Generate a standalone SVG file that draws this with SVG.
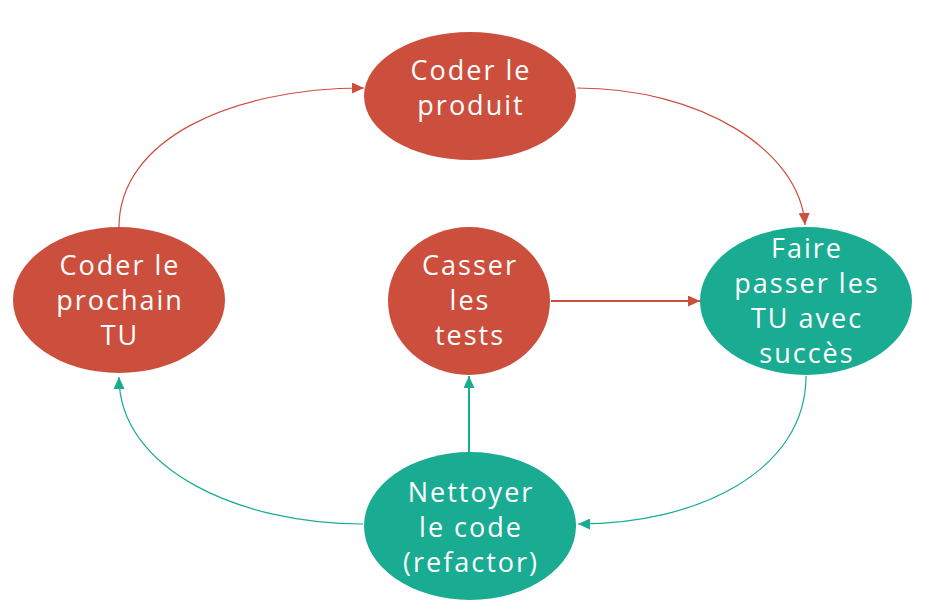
<svg xmlns="http://www.w3.org/2000/svg" width="938" height="613" viewBox="0 0 938 613">
<style>
.red{fill:#CC4F3E}
.teal{fill:#1AAC92}
.lbl{font-family:"Open Sans","Liberation Sans",sans-serif;font-size:27px;fill:#fff;text-anchor:middle;letter-spacing:2px;font-weight:500}
.cr{fill:none;stroke:#CC4F3E}
.ct{fill:none;stroke:#1AAC92}
</style>
<defs>
<marker id="ar" markerUnits="userSpaceOnUse" markerWidth="12" markerHeight="11" refX="12" refY="5.5" orient="auto"><path d="M0,0 L12,5.5 L0,11 z" fill="#CC4F3E"/></marker>
<marker id="at" markerUnits="userSpaceOnUse" markerWidth="12" markerHeight="11" refX="12" refY="5.5" orient="auto"><path d="M0,0 L12,5.5 L0,11 z" fill="#1AAC92"/></marker>
</defs>
<rect width="938" height="613" fill="#fff"/>
<g id="connectors">
<path class="cr" stroke-width="1.2" d="M119,227 C119,140 230,88 364,88" marker-end="url(#ar)"/>
<path class="cr" stroke-width="1.2" d="M577,88 C700,88 800,150 805,225" marker-end="url(#ar)"/>
<path class="cr" stroke-width="2" d="M551,301 L700,301" marker-end="url(#ar)"/>
<path class="ct" stroke-width="1.2" d="M806,376 C806,470 700,524 578,524" marker-end="url(#at)"/>
<path class="ct" stroke-width="1.2" d="M363,524 C240,524 119,470 119,377" marker-end="url(#at)"/>
<path class="ct" stroke-width="2" d="M469,452 L469,376" marker-end="url(#at)"/>
</g>
<g id="coder-produit">
<ellipse class="red" cx="470" cy="96" rx="106" ry="64"/>
<text class="lbl" x="471" y="80">Coder le</text>
<text class="lbl" x="471" y="115">produit</text>
</g>
<g id="faire-passer">
<ellipse class="teal" cx="806" cy="301" rx="106" ry="74"/>
<text class="lbl" x="807" y="258">Faire</text>
<text class="lbl" x="807" y="293">passer les</text>
<text class="lbl" x="807" y="328">TU avec</text>
<text class="lbl" x="807" y="363">succès</text>
</g>
<g id="coder-prochain">
<ellipse class="red" cx="119" cy="300" rx="106" ry="73"/>
<text class="lbl" x="120" y="275">Coder le</text>
<text class="lbl" x="120" y="310">prochain</text>
<text class="lbl" x="120" y="345">TU</text>
</g>
<g id="casser">
<ellipse class="red" cx="469" cy="301" rx="81" ry="74"/>
<text class="lbl" x="470" y="275">Casser</text>
<text class="lbl" x="470" y="310">les</text>
<text class="lbl" x="470" y="345">tests</text>
</g>
<g id="nettoyer">
<ellipse class="teal" cx="470" cy="526" rx="106" ry="74"/>
<text class="lbl" x="471" y="502">Nettoyer</text>
<text class="lbl" x="471" y="537">le code</text>
<text class="lbl" x="471" y="572">(refactor)</text>
</g>
</svg>
